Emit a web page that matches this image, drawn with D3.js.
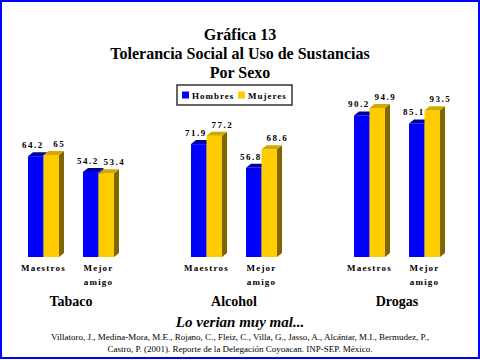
<!DOCTYPE html>
<html><head><meta charset="utf-8">
<script src="https://cdn.jsdelivr.net/npm/d3@7"></script>
<style>body{margin:0;background:#fff}svg{display:block}</style></head>
<body><svg id="c" width="480" height="360"></svg>
<script>
const groups = ["Tabaco", "Alcohol", "Drogas"];
const categories = ["Maestros", "Mejor amigo"];
const seriesNames = ["Hombres", "Mujeres"];
const hombres = [64.2, 54.2, 71.9, 56.8, 90.2, 85.1];
const mujeres = [65, 53.4, 77.2, 68.6, 94.9, 93.5];
const titleLines = ["Gráfica 13", "Tolerancia Social al Uso de Sustancias", "Por Sexo"];
const subtitle = "Lo verian muy mal...";
const citation = [
  "Villatoro, J., Medina-Mora, M.E., Rojano, C., Fleiz, C., Villa, G., Jasso, A., Alcántar, M.I., Bermudez, P.,",
  "Castro, P. (2001). Reporte de la Delegación Coyoacan. INP-SEP. México."
];

const serif = "'Liberation Serif','Times New Roman',serif";
const svg = d3.select("#c");
const colors = {
  Hombres: {front: "#0000ff", top: "#0000a8", side: "#000080"},
  Mujeres: {front: "#ffcc00", top: "#d4a800", side: "#806600"}
};
const labelShift = {Hombres: -3, Mujeres: 8};
const dx = 5, dy = 4;

// border
svg.append("rect").attr("x", 1).attr("y", 1).attr("width", 478).attr("height", 357)
  .attr("fill", "#fff").attr("stroke", "#0000ff").attr("stroke-width", 2);

// title
svg.append("g").selectAll("text").data(titleLines).join("text")
  .attr("x", 240).attr("y", (d, i) => 40 + i * 19)
  .attr("text-anchor", "middle").attr("font-family", serif)
  .attr("font-weight", "bold").attr("font-size", 16).text(d => d);

const gx = d3.scalePoint().domain(groups).range([28, 354]);
const cx = d3.scalePoint().domain(categories).range([0, 55]);
const sx = d3.scaleBand().domain(seriesNames).range([0, 31]);
const y = d3.scaleLinear().domain([0, 100]).range([257, 100]);
const base = y(0);

const rows = [];
hombres.forEach((v, i) => {
  const g = groups[Math.floor(i / 2)], c = categories[i % 2];
  rows.push({g, c, s: "Hombres", v});
  rows.push({g, c, s: "Mujeres", v: mujeres[i]});
});

const bars = svg.append("g").selectAll("g").data(rows).join("g")
  .attr("transform", d => `translate(${gx(d.g) + cx(d.c) + sx(d.s)},0)`);
const w = sx.bandwidth();
bars.append("polygon").attr("fill", d => colors[d.s].side)
  .attr("points", d => { const t = y(d.v); return `${w},${t} ${w+dx},${t-dy} ${w+dx},${base-dy} ${w},${base}`; });
bars.append("rect").attr("x", 0).attr("y", d => y(d.v)).attr("width", w)
  .attr("height", d => base - y(d.v)).attr("fill", d => colors[d.s].front);
bars.append("polygon").attr("fill", d => colors[d.s].top)
  .attr("points", d => { const t = y(d.v); return `0,${t} ${dx},${t-dy} ${w+dx},${t-dy} ${w},${t}`; });
bars.append("text").attr("x", d => w / 2 + labelShift[d.s]).attr("y", d => y(d.v) - 8)
  .attr("text-anchor", "middle").attr("font-family", serif).attr("font-weight", "bold")
  .attr("font-size", 9).attr("letter-spacing", 1.5).text(d => d.v);

// category labels
const catPairs = [];
groups.forEach(g => categories.forEach(c => catPairs.push({g, c})));
const cl = svg.append("g").selectAll("text").data(catPairs).join("text")
  .attr("text-anchor", "middle").attr("font-family", serif).attr("font-weight", "bold")
  .attr("font-size", 9).attr("letter-spacing", 1.2)
  .attr("transform", d => `translate(${gx(d.g) + cx(d.c) + 15.5},271)`);
cl.selectAll("tspan").data(d => d.c.split(" ")).join("tspan")
  .attr("x", 0).attr("y", (d, i) => i * 14).text(d => d);

// group labels
svg.append("g").selectAll("text").data(groups).join("text")
  .attr("x", d => gx(d) + 43).attr("y", 306).attr("text-anchor", "middle")
  .attr("font-family", serif).attr("font-weight", "bold").attr("font-size", 14).text(d => d);

// legend
const lg = svg.append("g").attr("transform", "translate(177,85)");
lg.append("rect").attr("x", 0).attr("y", 0).attr("width", 115).attr("height", 20)
  .attr("fill", "#fff").attr("stroke", "#333").attr("stroke-width", 1.5);
const li = lg.selectAll("g.it").data(seriesNames).join("g").attr("class", "it")
  .attr("transform", (d, i) => `translate(${5 + i * 56},6.5)`);
li.append("rect").attr("width", 7).attr("height", 7).attr("fill", d => colors[d].front);
li.append("text").attr("x", 10).attr("y", 7).attr("font-family", serif)
  .attr("font-weight", "bold").attr("font-size", 9).attr("letter-spacing", 1).text(d => d);

// subtitle and citation
svg.append("text").attr("x", 240).attr("y", 327).attr("text-anchor", "middle")
  .attr("font-family", serif).attr("font-style", "italic").attr("font-weight", "bold")
  .attr("font-size", 15).text(subtitle);
svg.append("g").selectAll("text").data(citation).join("text")
  .attr("x", 240).attr("y", (d, i) => 340 + i * 12).attr("text-anchor", "middle")
  .attr("font-family", serif).attr("font-size", 9).text(d => d);
</script>
</body></html>
